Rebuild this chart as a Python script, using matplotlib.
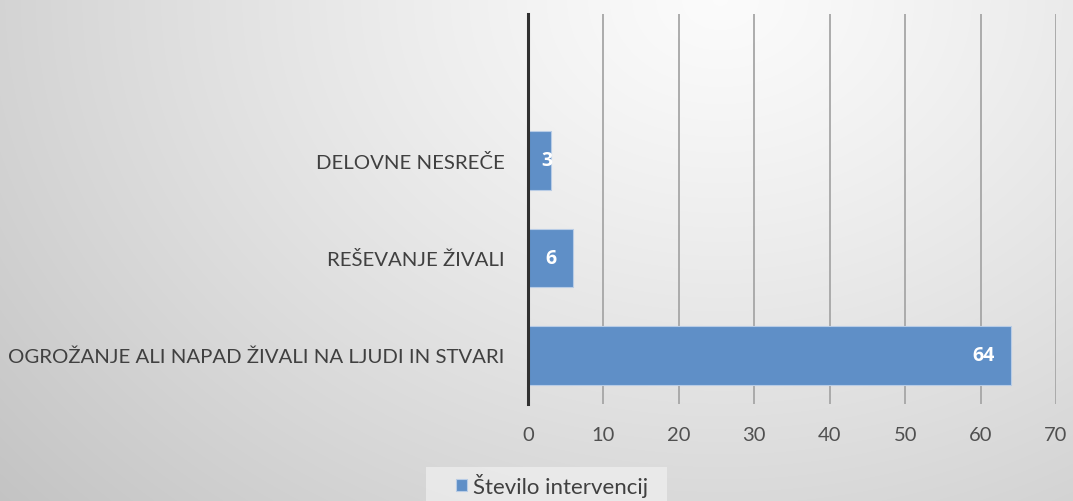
import numpy as np
import matplotlib
matplotlib.use("Agg")
import matplotlib.pyplot as plt
from matplotlib.patches import Rectangle

categories = ["OGROŽANJE ALI NAPAD ŽIVALI NA LJUDI IN STVARI", "REŠEVANJE ŽIVALI", "DELOVNE NESREČE", ""]
values = [64, 6, 3, None]
series_name = "Število intervencij"
xticks = [0, 10, 20, 30, 40, 50, 60, 70]

plt.rcParams['font.family'] = ['Lato', 'DejaVu Sans']

fig = plt.figure(figsize=(10.73, 5.02), dpi=100)

# background gradient
bg = fig.add_axes([0, 0, 1, 1], zorder=-10)
yy, xx = np.mgrid[0:502, 0:1073]
d = np.sqrt(((xx - 720) / 1073.0) ** 2 + ((yy - 0) / 502.0) ** 2 * 0.35)
shade = 0.985 - 0.25 * np.clip(d, 0, 1) ** 1.2
img = np.dstack([shade, shade, shade])
bg.imshow(img, aspect='auto', extent=[0, 1, 0, 1])
bg.axis('off')
# legend background panel
bg.add_patch(Rectangle((426 / 1073, 0), (667 - 426) / 1073, (502 - 468) / 502,
                       transform=bg.transAxes, facecolor='#f0f0f0', alpha=0.7,
                       edgecolor='none', zorder=2))

ax = fig.add_axes([528 / 1073, 1 - 405 / 502, (1056 - 528) / 1073, (405 - 15) / 502])
ax.patch.set_alpha(0)

ypos = np.arange(len(categories))
vals = [v if v is not None else 0 for v in values]
bars = ax.barh(ypos, vals, height=0.6, color='#5f8fc7', edgecolor='#b8cce6', linewidth=0.8,
               label=series_name, zorder=3)
for y, v in zip(ypos, values):
    if v is None:
        continue
    ax.text(max(v - 2.2, 3.3), y, str(v), ha='right', va='center', color='white',
            fontsize=14, fontweight='bold', family=['Open Sans', 'DejaVu Sans'], zorder=4)

ax.set_xlim(0, 70)
ax.set_ylim(-0.5, len(categories) - 0.5)
ax.set_xticks(xticks)
ax.set_xticklabels([str(t) for t in xticks], fontsize=14.5, color='#505050')
ax.set_yticks(ypos)
ax.set_yticklabels(categories, fontsize=14.7, color='#404040')
ax.tick_params(axis='both', length=0)
ax.tick_params(axis='x', pad=16)
ax.tick_params(axis='y', pad=17)
ax.grid(axis='x', color='#a6a6a6', linewidth=1.3, zorder=0)
ax.set_axisbelow(True)
for s in ['top', 'right', 'bottom']:
    ax.spines[s].set_visible(False)
ax.spines['left'].set_color('#303030')
ax.spines['left'].set_linewidth(2.2)
ax.spines['left'].set_zorder(5)

leg = fig.legend(handles=[bars], labels=[series_name], loc='center',
                 bbox_to_anchor=(552 / 1073, 1 - 486 / 502), frameon=False,
                 fontsize=16, handlelength=0.5, handleheight=0.5, handletextpad=0.3,
                 borderpad=0.4)
for t in leg.get_texts():
    t.set_color('#404040')

fig.savefig('out.png', dpi=100)
